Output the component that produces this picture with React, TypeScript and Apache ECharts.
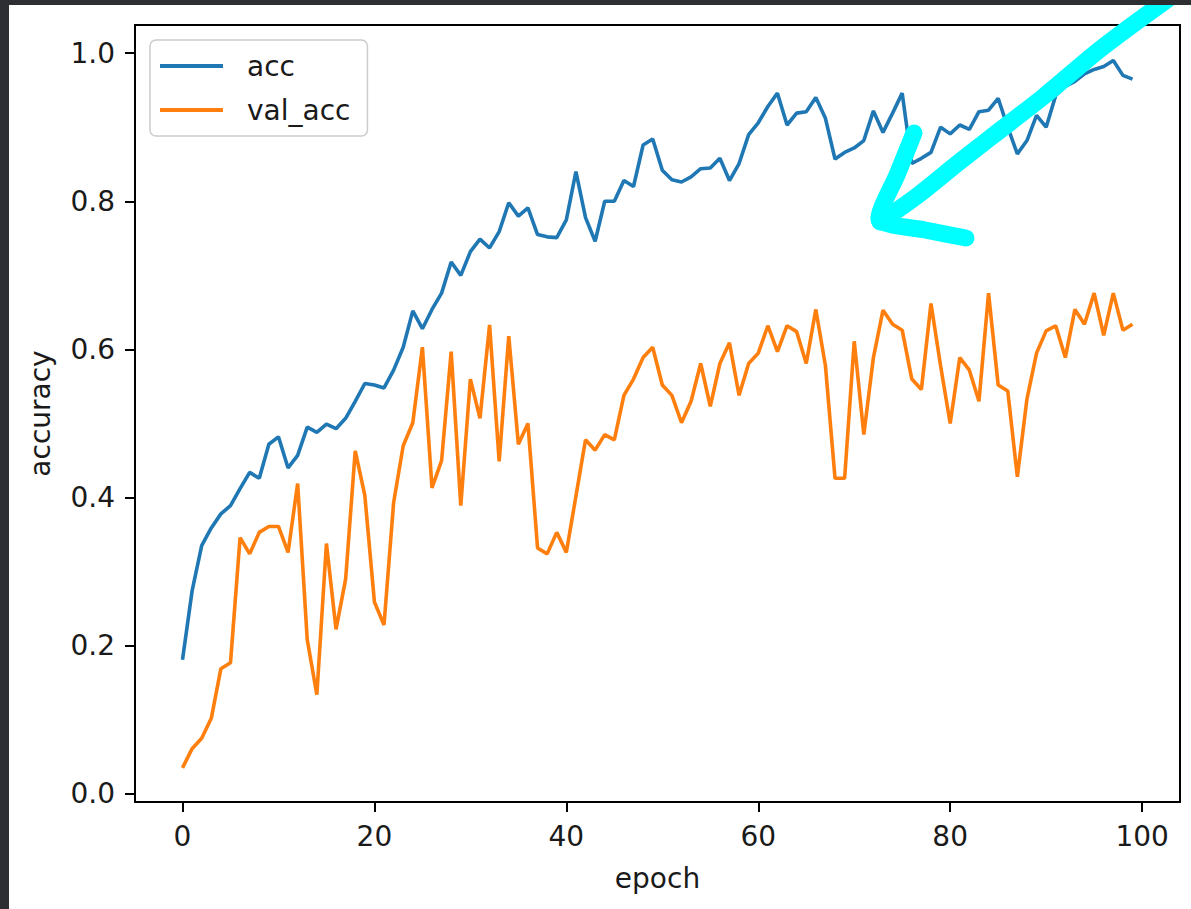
import React, { useEffect, useRef } from "react";
import * as echarts from "echarts";

const acc = [
  0.181, 0.274, 0.335, 0.359, 0.378, 0.389, 0.412, 0.434, 0.426, 0.472,
  0.482, 0.44, 0.457, 0.495, 0.488, 0.499, 0.493, 0.507, 0.53, 0.554,
  0.552, 0.548, 0.572, 0.603, 0.652, 0.628, 0.654, 0.676, 0.718, 0.7,
  0.732, 0.749, 0.737, 0.759, 0.798, 0.78, 0.791, 0.755, 0.752, 0.751,
  0.775, 0.84, 0.778, 0.746, 0.8, 0.8, 0.828, 0.82, 0.876, 0.884,
  0.842, 0.829, 0.826, 0.833, 0.844, 0.845, 0.858, 0.828, 0.851, 0.89,
  0.906, 0.928, 0.946, 0.903, 0.919, 0.921, 0.94, 0.912, 0.857, 0.866,
  0.872, 0.882, 0.922, 0.893, 0.919, 0.946, 0.851, 0.858, 0.866, 0.9,
  0.891, 0.903, 0.897, 0.921, 0.923, 0.939, 0.9, 0.864, 0.882, 0.916,
  0.9, 0.943, 0.955, 0.962, 0.972, 0.978, 0.982, 0.99, 0.97, 0.965,
];

const valAcc = [
  0.035, 0.061, 0.075, 0.102, 0.169, 0.177, 0.346, 0.324, 0.353, 0.361,
  0.361, 0.326, 0.419, 0.208, 0.134, 0.338, 0.222, 0.29, 0.463, 0.403,
  0.259, 0.228, 0.393, 0.47, 0.501, 0.603, 0.413, 0.45, 0.597, 0.389,
  0.56, 0.507, 0.633, 0.449, 0.618, 0.472, 0.5, 0.332, 0.324, 0.353,
  0.326, 0.402, 0.478, 0.464, 0.485, 0.478, 0.538, 0.56, 0.589, 0.603,
  0.552, 0.538, 0.501, 0.53, 0.581, 0.523, 0.581, 0.609, 0.538, 0.581,
  0.595, 0.632, 0.597, 0.632, 0.624, 0.581, 0.654, 0.578, 0.426, 0.426,
  0.611, 0.485, 0.589, 0.653, 0.634, 0.626, 0.56, 0.546, 0.662, 0.578,
  0.5, 0.589, 0.572, 0.53, 0.676, 0.552, 0.544, 0.428, 0.533, 0.595,
  0.625, 0.632, 0.589, 0.654, 0.634, 0.676, 0.619, 0.676, 0.626, 0.634,
];

const xTicks = [0, 20, 40, 60, 80, 100];
const yTicks = [0, 0.2, 0.4, 0.6, 0.8, 1.0];
const seriesNames = ["acc", "val_acc"];

const FONT = "DejaVu Sans";
const TXT = "#1a1a1a";

export default function App() {
  const ref = useRef<HTMLDivElement>(null);
  useEffect(() => {
    const chart = echarts.init(ref.current!, null, { renderer: "svg" });
    const toPairs = (arr: number[]) => arr.map((v, i) => [i, v]);
    chart.setOption({
      animation: false,
      backgroundColor: "#ffffff",
      grid: {
        left: 135,
        right: 11,
        top: 25,
        bottom: 107,
        show: true,
        borderColor: "#000",
        borderWidth: 2,
        backgroundColor: "transparent",
      },
      legend: {
        orient: "vertical",
        left: 150,
        top: 40,
        data: seriesNames,
        icon: "rect",
        itemWidth: 63,
        itemHeight: 4,
        itemGap: 14,
        padding: [11, 17, 11, 10],
        backgroundColor: "rgba(255,255,255,0.8)",
        borderColor: "#cccccc",
        borderWidth: 1.5,
        borderRadius: 6,
        textStyle: {
          fontFamily: FONT,
          fontSize: 28,
          color: TXT,
          padding: [0, 0, 0, 19],
          lineHeight: 30,
        },
      },
      xAxis: {
        type: "value",
        min: -4.95,
        max: 103.95,
        name: "epoch",
        nameLocation: "middle",
        nameGap: 62,
        nameTextStyle: { fontFamily: FONT, fontSize: 28, color: TXT },
        axisLine: { show: true, onZero: false, lineStyle: { color: "#000", width: 2 } },
        axisTick: {
          show: true,
          length: 10,
          customValues: xTicks,
          lineStyle: { color: "#000", width: 2 },
        },
        axisLabel: {
          customValues: xTicks,
          margin: 20,
          fontFamily: FONT,
          fontSize: 28,
          color: TXT,
        },
        splitLine: { show: false },
      },
      yAxis: {
        type: "value",
        min: -0.011,
        max: 1.038,
        name: "accuracy",
        nameLocation: "middle",
        nameGap: 81,
        nameRotate: 90,
        nameTextStyle: { fontFamily: FONT, fontSize: 28, color: TXT },
        axisLine: { show: true, onZero: false, lineStyle: { color: "#000", width: 2 } },
        axisTick: {
          show: true,
          length: 10,
          customValues: yTicks,
          lineStyle: { color: "#000", width: 2 },
        },
        axisLabel: {
          customValues: yTicks,
          margin: 20,
          fontFamily: FONT,
          fontSize: 28,
          color: TXT,
          formatter: (v: number) => v.toFixed(1),
        },
        splitLine: { show: false },
      },
      series: [
        {
          name: seriesNames[0],
          type: "line",
          data: toPairs(acc),
          symbol: "none",
          lineStyle: { color: "#1f77b4", width: 3.6 },
          itemStyle: { color: "#1f77b4" },
          z: 3,
        },
        {
          name: seriesNames[1],
          type: "line",
          data: toPairs(valAcc),
          symbol: "none",
          lineStyle: { color: "#ff7f0e", width: 3.6 },
          itemStyle: { color: "#ff7f0e" },
          z: 3,
        },
      ],
      graphic: [
        { type: "rect", shape: { x: 0, y: 0, width: 1191, height: 5 }, style: { fill: "#2d2f33" }, z: 100 },
        { type: "rect", shape: { x: 0, y: 0, width: 9, height: 909 }, style: { fill: "#2d2f33" }, z: 100 },
        {
          type: "polyline",
          shape: {
            points: [
              [1175, -6],
              [1103, 47],
              [1043, 97],
              [990, 138],
              [958, 163],
              [917, 196],
              [880, 222],
            ],
            smooth: 0.3,
          },
          style: { stroke: "#00ffff", lineWidth: 17, fill: "none", lineCap: "round", lineJoin: "round" },
          z: 90,
        },
        {
          type: "polyline",
          shape: {
            points: [
              [914, 133],
              [897, 175],
              [879, 220],
              [925, 230],
              [966, 238],
            ],
            smooth: 0.2,
          },
          style: { stroke: "#00ffff", lineWidth: 17, fill: "none", lineCap: "round", lineJoin: "round" },
          z: 90,
        },
      ],
    });
    return () => chart.dispose();
  }, []);
  return (
    <div
      ref={ref}
      style={{ position: "fixed", left: 0, top: 0, width: 1191, height: 909 }}
    />
  );
}
